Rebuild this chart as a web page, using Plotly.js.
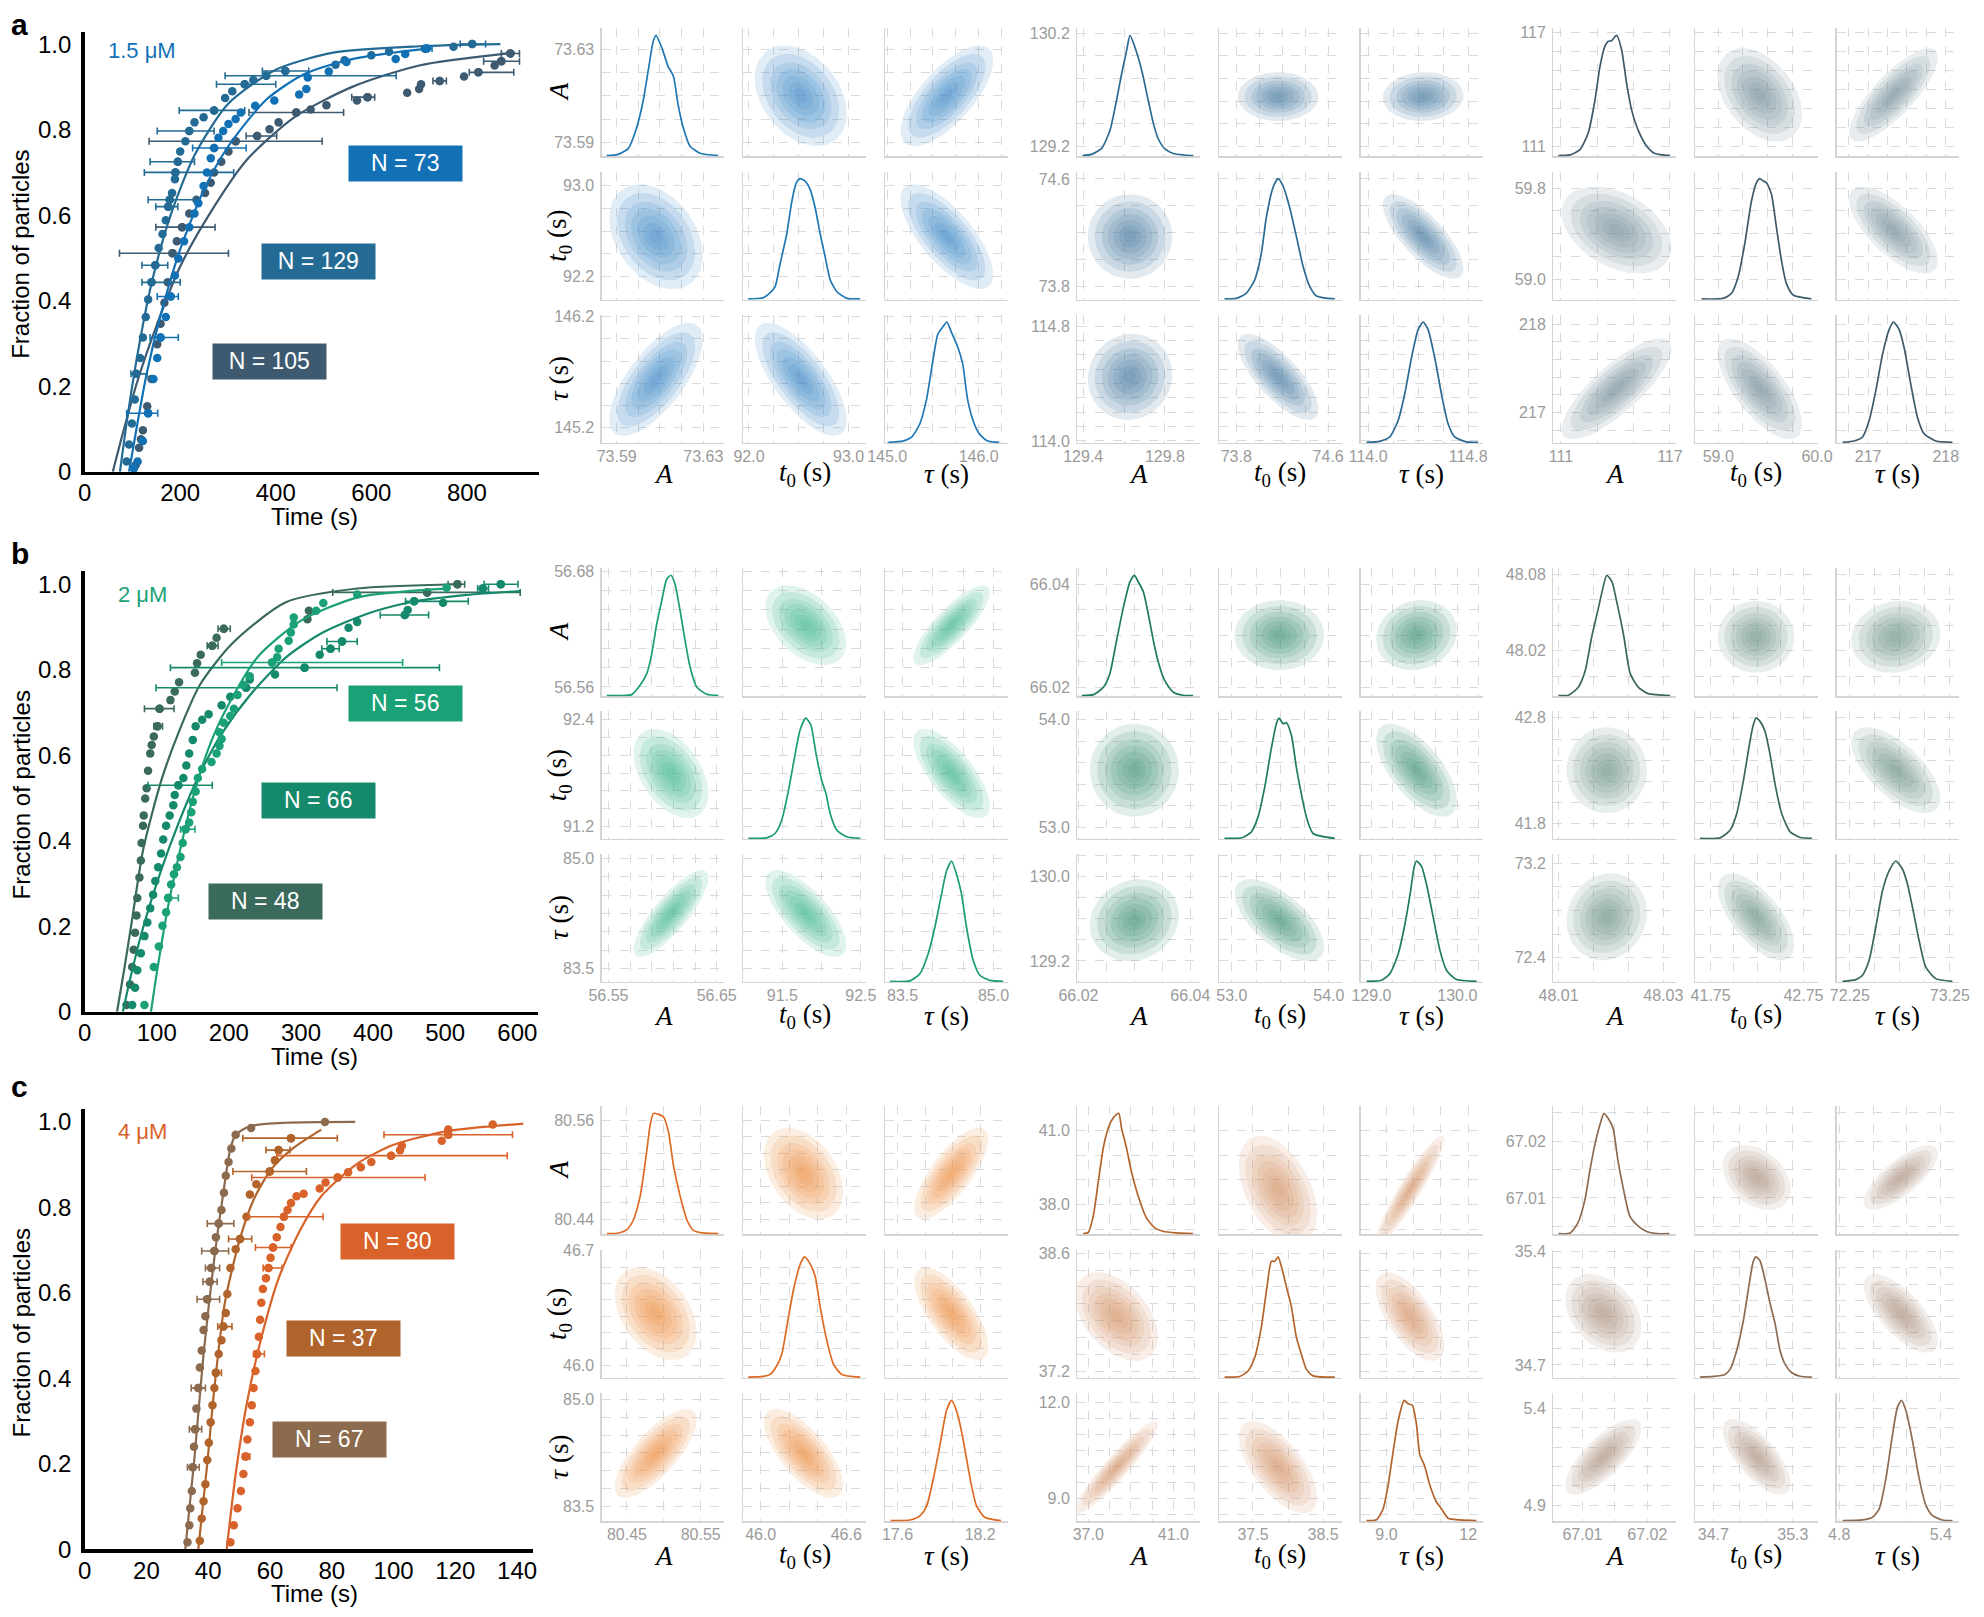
<!DOCTYPE html>
<html><head><meta charset="utf-8">
<script src="https://cdn.plot.ly/plotly-3.0.1.min.js"></script>
<style>html,body{margin:0;padding:0;background:#fff}#plot{width:1984px;height:1617px}</style>
</head><body><div id="plot"></div>
<script>
// ================= LEFT PANELS DATA (ECDF points, error bars, fitted curves) =================
// Row a (1.5 uM)
const A_TICKS_X = [0,200,400,600,800];
const A_N73_X = [103,111,122,133,144,152,159,170,180,189,196,208,219,230,238,249,256,264,271,280,290,301,316,327,357,397,449,464,467,511,548,651,671,716];
const A_N73_Y = [0.008,0.024,0.072,0.137,0.217,0.266,0.314,0.362,0.41,0.459,0.499,0.539,0.572,0.604,0.628,0.668,0.70,0.733,0.757,0.781,0.797,0.813,0.825,0.84,0.856,0.868,0.882,0.895,0.922,0.936,0.958,0.965,0.977,0.99];
const A_N73_EM = [0,0,0,45,0,0,22,0,28,0,0,0,0,0,0,0,0,0,45,0,0,0,0,0,0,0,0,0,0,0,0,0,0,4];
const A_N73_EP = [0,0,0,20,0,0,37,0,16,0,0,0,0,0,0,0,0,0,67,0,0,0,0,0,0,0,0,0,0,0,0,0,0,11];
const A_N73_CX = [93,110,130,160,200,250,300,380,460,560,720];
const A_N73_CY = [0,0.11,0.23,0.37,0.52,0.66,0.76,0.87,0.93,0.965,0.99];

const A_N129_X = [88,93,99,105,108,116,122,128,133,140,148,155,163,170,175,178,183,189,190,195,200,211,219,230,249,271,294,309,335,353,380,420,525,544,600,637,712,772,811];
const A_N129_Y = [0.024,0.064,0.113,0.169,0.229,0.266,0.314,0.362,0.403,0.443,0.483,0.523,0.556,0.588,0.62,0.636,0.652,0.684,0.70,0.725,0.749,0.773,0.797,0.817,0.829,0.845,0.874,0.89,0.906,0.916,0.926,0.937,0.952,0.962,0.974,0.982,0.989,0.994,1.0];
const A_N129_EM = [0,0,0,0,11,0,0,0,0,20,28,0,0,0,26,45,0,0,65,58,0,0,67,0,0,73,0,0,59,0,86,48,0,0,0,0,0,0,25];
const A_N129_EP = [0,0,0,0,23,0,0,0,0,60,26,0,0,0,20,52,0,0,122,35,0,0,52,0,0,64,0,0,65,0,272,49,0,0,0,0,0,0,28];
const A_N129_CX = [74,90,110,140,180,230,300,400,520,700,870];
const A_N129_CY = [0,0.13,0.27,0.44,0.60,0.74,0.86,0.94,0.98,0.995,1.0];

const A_N105_X = [107,114,118,122,131,140,152,159,167,174,184,193,204,219,234,252,264,271,286,301,316,361,387,406,443,473,506,570,592,675,700,704,743,794,824,858,872,891];
const A_N105_Y = [0.016,0.056,0.076,0.097,0.153,0.217,0.298,0.346,0.395,0.443,0.511,0.539,0.572,0.604,0.636,0.652,0.676,0.70,0.725,0.749,0.773,0.785,0.801,0.817,0.84,0.847,0.857,0.868,0.876,0.886,0.895,0.906,0.914,0.924,0.934,0.95,0.96,0.978];
const A_N105_EM = [0,0,0,0,0,0,0,0,0,0,111,0,55,0,0,0,0,0,0,0,181,23,0,0,99,0,0,0,33,0,0,0,14,0,19,0,37,19];
const A_N105_EP = [0,0,0,0,0,0,0,0,0,0,117,0,69,0,0,0,0,0,0,0,181,41,0,0,99,0,0,0,15,0,0,0,14,0,74,0,38,19];
const A_N105_CX = [59,80,110,150,200,260,340,440,560,700,900];
const A_N105_CY = [0,0.09,0.21,0.34,0.48,0.60,0.73,0.83,0.90,0.95,0.98];

// Row b (2 uM)
const B_TICKS_X = [0,100,200,300,400,500,600];
const B_N56_X = [83,96,103,108,113,116,120,124,128,133,136,140,145,148,150,154,157,163,176,183,187,190,187,193,202,207,212,220,229,260,267,269,283,286,290,290,321,331,378,502];
const B_N56_Y = [0.016,0.105,0.153,0.201,0.233,0.266,0.298,0.322,0.338,0.362,0.395,0.427,0.443,0.467,0.491,0.515,0.547,0.568,0.584,0.604,0.622,0.638,0.654,0.676,0.692,0.709,0.741,0.765,0.785,0.817,0.829,0.849,0.868,0.887,0.906,0.922,0.938,0.956,0.976,0.992];
const B_N56_EM = [0,0,0,0,0,3,0,0,0,0,0,7,0,0,0,0,0,0,0,0,0,0,0,0,0,0,0,0,0,70,0,0,0,0,0,0,0,0,0,0];
const B_N56_EP = [0,0,0,0,0,14,0,0,0,0,0,13,0,0,0,0,0,0,0,0,0,0,0,0,0,0,0,0,0,181,0,0,0,0,0,0,0,0,0,0];
const B_N56_CX = [92,100,115,130,150,175,200,240,300,380,500];
const B_N56_CY = [0,0.09,0.24,0.36,0.50,0.63,0.72,0.83,0.915,0.97,0.99];

const B_N66_X = [66,70,73,78,83,87,91,95,98,102,106,109,113,118,123,125,130,137,141,145,150,154,163,172,190,202,224,229,264,305,326,341,357,366,378,444,448,457,497,552,577];
const B_N66_Y = [0.016,0.056,0.097,0.137,0.177,0.209,0.242,0.274,0.306,0.338,0.37,0.403,0.435,0.459,0.483,0.507,0.53,0.547,0.576,0.604,0.636,0.668,0.683,0.696,0.717,0.737,0.758,0.777,0.789,0.805,0.835,0.849,0.866,0.898,0.912,0.928,0.94,0.96,0.957,0.99,1.0];
const B_N66_EM = [0,0,0,0,0,0,0,0,0,0,0,0,0,0,0,0,42,0,0,0,0,0,0,0,0,0,125,0,0,186,0,12,21,0,0,34,0,12,0,7,23];
const B_N66_EP = [0,0,0,0,0,0,0,0,0,0,0,0,0,0,0,0,47,0,0,0,0,0,0,0,0,0,126,0,0,187,0,12,21,0,0,33,0,75,0,8,24];
const B_N66_CX = [53,65,80,106,130,155,190,229,280,329,390,452,530,604];
const B_N66_CY = [0,0.09,0.19,0.33,0.44,0.54,0.65,0.74,0.83,0.886,0.93,0.958,0.975,0.984];

const B_N48_X = [58,63,66,68,70,72,73,76,78,79,81,82,84,86,88,91,93,96,101,104,119,125,131,153,156,161,177,183,193,309,311,475,517];
const B_N48_Y = [0.016,0.064,0.105,0.145,0.185,0.225,0.266,0.314,0.354,0.395,0.435,0.459,0.499,0.523,0.564,0.604,0.624,0.644,0.668,0.709,0.729,0.749,0.771,0.793,0.815,0.835,0.856,0.875,0.896,0.918,0.938,0.981,1.0];
const B_N48_EM = [0,0,0,0,0,0,0,0,0,0,0,0,0,0,0,0,0,0,5,21,0,0,0,0,0,0,7,0,8,0,0,131,13];
const B_N48_EP = [0,0,0,0,0,0,0,0,0,0,0,0,0,0,0,0,0,0,7,20,0,0,0,0,0,0,8,0,9,0,0,129,10];
const B_N48_CX = [45,55,66,81,106,130,160,205,279,378,517];
const B_N48_CY = [0,0.1,0.217,0.378,0.539,0.652,0.765,0.862,0.958,0.99,1.0];

// Row c (4 uM)
const C_TICKS_X = [0,20,40,60,80,100,120,140];
const C_N80_X = [47.2,48.3,49.5,50.6,51.4,52.1,52.7,53.5,54.1,54.7,55.3,55.8,56.4,56.8,57.2,57.7,58.7,59.5,60.2,61.0,62.2,63.4,64.5,65.7,66.8,68.6,70.9,76.1,78.0,81.9,85.3,89.4,92.8,99.2,102.1,102.7,115.6,117.7,117.7,132.1];
const C_N80_Y = [0.016,0.056,0.096,0.136,0.176,0.217,0.257,0.297,0.337,0.377,0.417,0.457,0.497,0.537,0.577,0.609,0.634,0.658,0.682,0.706,0.73,0.754,0.778,0.794,0.81,0.826,0.832,0.844,0.858,0.87,0.882,0.894,0.906,0.921,0.934,0.944,0.956,0.97,0.982,0.994];
const C_N80_EM = [0,0,0,0,0,0.9,0,0,0,0,0,1.1,0,0,0,0,0,1.7,0,5.7,0,0,11.6,0,0,0,0,0,0,27.8,0,0,0,37,0,0,0,20.8,0,0];
const C_N80_EP = [0,0,0,0,0,1.4,0,0,0,0,0,2.4,0,0,0,0,0,4.4,0,5.8,0,0,12.7,0,0,0,0,0,0,28.3,0,0,0,37.6,0,0,0,20.8,0,0];
const C_N80_CX = [46.0,48.9,52.4,57.0,62.8,69.7,76.6,88.2,99.8,117.1,142.0];
const C_N80_CY = [0,0.176,0.337,0.489,0.634,0.746,0.826,0.902,0.946,0.978,0.996];

const C_N37_X = [37.3,37.9,38.5,39.1,39.7,40.2,40.8,41.4,42.0,42.5,43.4,44.3,44.9,45.7,46.2,47.2,48.9,50.3,52.4,53.5,55.6,59.9,61.6,62.8,66.8];
const C_N37_Y = [0.02,0.072,0.112,0.152,0.209,0.249,0.297,0.337,0.377,0.413,0.457,0.489,0.521,0.553,0.597,0.658,0.702,0.726,0.778,0.83,0.854,0.884,0.91,0.934,0.962];
const C_N37_EM = [0,0,0,0,0,0,0,0,0,0.5,0,0,1.8,0,0,0,0,3.7,0,0,0,11.9,0,4.1,15.6];
const C_N37_EP = [0,0,0,0,0,0,0,0,0,1.8,0,0,2.8,0,0,0,0,3.8,0,0,0,11.9,0,3.7,15.0];
const C_N37_CX = [36.8,39.7,42.0,45.4,50.1,54.7,60.5,67.4,76.6];
const C_N37_CY = [0,0.2,0.377,0.577,0.722,0.818,0.89,0.938,0.982];

const C_N67_X = [33.3,33.9,34.2,34.7,35.0,35.4,35.8,36.2,36.8,37.3,37.9,38.5,39.1,39.7,40.5,41.0,42.0,42.5,43.4,44.3,45.1,45.7,46.6,47.5,48.9,53.9,77.8];
const C_N67_Y = [0.016,0.056,0.096,0.136,0.192,0.24,0.281,0.329,0.377,0.425,0.465,0.513,0.545,0.585,0.626,0.658,0.698,0.73,0.762,0.794,0.834,0.874,0.906,0.938,0.97,0.986,1.0];
const C_N67_EM = [0,0,0,0,1.7,0,1.9,0,2.3,0,0,0,0,3.3,2.2,1.9,4.1,0,3.7,0,0,0,0,0,0,0,0];
const C_N67_EP = [0,0,0,0,2.1,0,2.1,0,2.3,0,0,0,0,4.0,2.4,2.7,4.6,0,4.9,0,0,0,0,0,0,0,0];
const C_N67_CX = [32.6,35.6,38.5,42.0,44.9,47.2,48.9,53.5,65.1,87.6];
const C_N67_CY = [0,0.217,0.457,0.682,0.834,0.938,0.97,0.99,0.998,1.0];

const Y_TICKS = [0,0.2,0.4,0.6,0.8,1.0];
const Y_TICKTEXT = ["0","0.2","0.4","0.6","0.8","1.0"];
const CONC_LABELS = ["1.5 μM","2 μM","4 μM"];
const PANEL_LETTERS = ["a","b","c"];

// ================= CORNER PLOTS DATA =================
// variables order: A, t0, tau ; RHO = [(A,t0),(A,tau),(t0,tau)]
const A1_XR=[[73.5831,73.6397],[91.943,93.174],[144.975,146.315]];
const A1_XG=[[73.59,73.60,73.61,73.62,73.63],[92.0,92.25,92.5,92.75,93.0],[145.0,145.25,145.5,145.75,146.0,146.25]];
const A1_XL=[["73.59","73.63"],["92.0","93.0"],["145.0","146.0"]];
const A1_YR=[[73.584,73.639],[91.995,93.123],[145.061,146.215]];
const A1_YG=[[73.59,73.60,73.61,73.62,73.63],[92.2,92.4,92.6,92.8,93.0],[145.2,145.4,145.6,145.8,146.0,146.2]];
const A1_YL=[["73.59","73.63"],["92.2","93.0"],["145.2","146.2"]];
const A1_MX=[73.6082,92.52,145.652], A1_SX=[0.0072,0.154,0.169];
const A1_MY=[73.610,92.55,145.635], A1_SY=[0.0072,0.154,0.17];
const A1_RHO=[-0.35,0.7,-0.72];
const A1_KX=[[73.5854,73.5908,73.5954,73.5992,73.6023,73.6046,73.6069,73.6082,73.6108,73.6138,73.6162,73.6185,73.6208,73.6238,73.6285,73.6369],
 [91.993,92.144,92.211,92.262,92.312,92.379,92.43,92.473,92.513,92.564,92.614,92.664,92.715,92.765,92.815,92.883,92.983,93.117],
 [145.011,145.174,145.264,145.355,145.428,145.5,145.554,145.609,145.652,145.699,145.772,145.826,145.88,145.953,146.007,146.098,146.225]];
const A1_KY=[[0,0.01,0.06,0.23,0.46,0.71,0.95,1.0,0.9,0.74,0.66,0.41,0.23,0.08,0.02,0],
 [0,0.01,0.05,0.1,0.29,0.54,0.81,0.96,1.0,0.98,0.91,0.76,0.54,0.35,0.16,0.06,0.005,0],
 [0,0.01,0.04,0.15,0.35,0.68,0.9,0.96,1.0,0.92,0.79,0.65,0.35,0.15,0.07,0.01,0]];

const A2_XR=[[129.371,129.971],[73.649,74.716],[113.939,114.92]];
const A2_XG=[[129.4,129.6,129.8],[73.8,74.0,74.2,74.4,74.6],[114.0,114.2,114.4,114.6,114.8]];
const A2_XL=[["129.4","129.8"],["73.8","74.6"],["114.0","114.8"]];
const A2_YR=[[129.112,130.244],[73.701,74.654],[113.986,114.877]];
const A2_YG=[[129.2,129.4,129.6,129.8,130.0,130.2],[73.8,74.0,74.2,74.4,74.6],[114.0,114.1,114.2,114.3,114.4,114.5,114.6,114.7,114.8]];
const A2_YL=[["129.2","130.2"],["73.8","74.6"],["114.0","114.8"]];
const A2_MX=[129.629,74.164,114.44], A2_SX=[0.069,0.117,0.1075];
const A2_MY=[129.64,74.171,114.446], A2_SY=[0.072,0.105,0.1];
const A2_RHO=[0.0,0.05,-0.75];
const A2_KX=[[129.397,129.441,129.49,129.531,129.563,129.588,129.612,129.629,129.653,129.686,129.718,129.743,129.767,129.8,129.841,129.89,129.939],
 [73.698,73.8,73.887,73.96,74.018,74.062,74.12,74.164,74.207,74.265,74.324,74.382,74.44,74.498,74.658],
 [113.987,114.093,114.173,114.24,114.293,114.347,114.4,114.44,114.48,114.533,114.587,114.64,114.693,114.787,114.88]];
const A2_KY=[[0,0.01,0.06,0.21,0.46,0.68,0.87,1.0,0.9,0.71,0.46,0.27,0.14,0.055,0.017,0.005,0],
 [0,0.005,0.047,0.157,0.376,0.679,0.926,1.0,0.94,0.76,0.516,0.269,0.102,0.025,0],
 [0,0.008,0.044,0.181,0.401,0.703,0.937,1.0,0.937,0.703,0.401,0.154,0.044,0.003,0]];

const A3_XR=[[110.578,117.33],[58.764,60.005],[216.592,218.172]];
const A3_XG=[[111,113,115,117],[59.0,59.25,59.5,59.75,60.0],[216.75,217.0,217.25,217.5,217.75,218.0]];
const A3_XL=[["111","117"],["59.0","60.0"],["217","218"]];
const A3_YR=[[110.47,117.21],[58.818,59.947],[216.657,218.102]];
const A3_YG=[[111,112,113,114,115,116,117],[59.0,59.2,59.4,59.6,59.8],[216.8,217.0,217.2,217.4,217.6,217.8,218.0]];
const A3_YL=[["111","117"],["59.0","59.8"],["217","218"]];
const A3_MX=[114.06,59.42,217.326], A3_SX=[1.01,0.143,0.191];
const A3_MY=[113.7,59.432,217.27], A3_SY=[0.82,0.128,0.19];
const A3_RHO=[-0.4,0.8,-0.7];
const A3_KX=[[110.853,111.495,112.046,112.505,112.872,113.147,113.422,113.606,113.789,114.064,114.339,114.615,114.89,115.257,115.716,116.174,117.0],
 [58.832,59.051,59.135,59.202,59.269,59.337,59.387,59.421,59.455,59.488,59.539,59.589,59.64,59.69,59.758,59.943],
 [216.67,216.82,216.927,217.013,217.099,217.185,217.27,217.326,217.399,217.464,217.549,217.635,217.721,217.871,218.086]];
const A3_KY=[[0,0.006,0.05,0.19,0.46,0.74,0.91,0.95,0.955,1.0,0.88,0.6,0.38,0.21,0.08,0.017,0],
 [0,0.005,0.047,0.184,0.459,0.816,0.967,1.0,0.981,0.967,0.871,0.596,0.321,0.129,0.033,0],
 [0,0.011,0.044,0.181,0.429,0.731,0.937,1.0,0.937,0.786,0.484,0.209,0.071,0.011,0]];

const B1_XR=[[56.5438,56.657],[91.002,92.564],[83.209,85.231]];
const B1_XG=[[56.55,56.57,56.59,56.61,56.63,56.65],[91.5,92.0,92.5],[83.5,84.0,84.5,85.0]];
const B1_XL=[["56.55","56.65"],["91.5","92.5"],["83.5","85.0"]];
const B1_YR=[[56.5503,56.683],[91.059,92.493],[83.318,85.059]];
const B1_YG=[[56.56,56.58,56.60,56.62,56.64,56.66,56.68],[91.2,91.4,91.6,91.8,92.0,92.2,92.4],[83.5,83.75,84.0,84.25,84.5,84.75,85.0]];
const B1_YL=[["56.56","56.68"],["91.2","92.4"],["83.5","85.0"]];
const B1_MX=[56.6078,91.798,84.308], B1_SX=[0.0115,0.172,0.21];
const B1_MY=[56.624,91.794,84.25], B1_SY=[0.0138,0.167,0.197];
const B1_RHO=[-0.45,0.82,-0.72];
const B1_KX=[[56.5485,56.5608,56.5715,56.5792,56.5854,56.59,56.5946,56.5992,56.6038,56.6078,56.6115,56.6162,56.6208,56.6254,56.6315,56.6408,56.6515],
 [91.066,91.3,91.406,91.491,91.577,91.662,91.726,91.798,91.862,91.93,92.002,92.057,92.109,92.194,92.321,92.491],
 [83.291,83.621,83.786,83.923,84.033,84.143,84.225,84.308,84.39,84.473,84.555,84.665,84.775,84.94,85.159]];
const B1_KY=[[0,0,0.008,0.085,0.182,0.347,0.595,0.788,0.967,1.0,0.926,0.705,0.457,0.237,0.072,0.011,0],
 [0,0.005,0.041,0.151,0.397,0.699,0.904,1.0,0.945,0.699,0.479,0.37,0.205,0.068,0.014,0],
 [0,0.003,0.063,0.229,0.449,0.725,0.917,1.0,0.89,0.725,0.449,0.174,0.05,0.008,0]];

const B2_XR=[[66.0198,66.0417],[52.866,54.131],[128.872,130.30]];
const B2_XG=[[66.02,66.025,66.03,66.035,66.04],[53.0,53.25,53.5,53.75,54.0],[129.0,129.25,129.5,129.75,130.0,130.25]];
const B2_XL=[["66.02","66.04"],["53.0","54.0"],["129.0","130.0"]];
const B2_YR=[[66.0182,66.0431],[52.889,54.077],[129.0,130.216]];
const B2_YG=[[66.02,66.025,66.03,66.035,66.04],[53.0,53.2,53.4,53.6,53.8,54.0],[129.2,129.4,129.6,129.8,130.0,130.2]];
const B2_YL=[["66.02","66.04"],["53.0","54.0"],["129.2","130.0"]];
const B2_MX=[66.03,53.49,129.525], B2_SX=[0.00265,0.154,0.157];
const B2_MY=[66.0301,53.529,129.587], B2_SY=[0.00227,0.144,0.13];
const B2_RHO=[0.0,0.12,-0.65];
const B2_KX=[[66.0206,66.0227,66.0245,66.0256,66.0268,66.028,66.0292,66.03,66.0307,66.0316,66.0325,66.0334,66.0342,66.0354,66.0369,66.0387,66.0405],
 [52.924,53.114,53.2,53.269,53.338,53.407,53.459,53.486,53.528,53.562,53.614,53.666,53.717,53.769,53.838,54.062],
 [128.942,129.117,129.214,129.311,129.389,129.455,129.498,129.525,129.584,129.642,129.72,129.798,129.875,129.992,130.226]];
const B2_KY=[[0,0.008,0.071,0.18,0.454,0.727,0.945,1.0,0.945,0.863,0.672,0.454,0.29,0.126,0.03,0.003,0],
 [0,0.008,0.054,0.177,0.422,0.749,0.954,1.0,0.954,0.962,0.858,0.586,0.368,0.177,0.041,0],
 [0,0.008,0.063,0.227,0.474,0.748,0.953,1.0,0.953,0.803,0.529,0.255,0.09,0.014,0]];

const B3_XR=[[48.009,48.0324],[41.581,42.901],[72.117,73.343]];
const B3_XG=[[48.01,48.01667,48.02333,48.03],[41.75,42.0,42.25,42.5,42.75],[72.25,72.5,72.75,73.0,73.25]];
const B3_XL=[["48.01","48.03"],["41.75","42.75"],["72.25","73.25"]];
const B3_YR=[[47.9844,48.0847],[41.656,42.8625],[72.193,73.279]];
const B3_YG=[[48.0,48.02,48.04,48.06,48.08],[41.8,42.0,42.2,42.4,42.6,42.8],[72.4,72.6,72.8,73.0,73.2]];
const B3_YL=[["48.02","48.08"],["41.8","42.8"],["72.4","73.2"]];
const B3_MX=[48.0192,42.239,72.71], B3_SX=[0.00256,0.137,0.149];
const B3_MY=[48.031,42.306,72.746], B3_SY=[0.0094,0.135,0.123];
const B3_RHO=[0.0,0.1,-0.65];
const B3_KX=[[48.01,48.0119,48.0138,48.0151,48.0163,48.0176,48.0186,48.0192,48.0202,48.0211,48.0224,48.0237,48.0252,48.0271,48.0313],
 [41.635,41.851,41.959,42.031,42.103,42.174,42.21,42.239,42.282,42.336,42.39,42.444,42.516,42.606,42.714,42.84],
 [72.177,72.31,72.377,72.443,72.51,72.577,72.643,72.71,72.777,72.827,72.877,72.943,73.01,73.11,73.277]];
const B3_KY=[[0,0.003,0.071,0.208,0.481,0.727,0.918,1.0,0.945,0.781,0.508,0.18,0.071,0.016,0],
 [0,0.005,0.068,0.205,0.479,0.808,0.945,1.0,0.973,0.89,0.699,0.452,0.205,0.055,0.008,0],
 [0,0.014,0.05,0.174,0.449,0.752,0.917,1.0,0.931,0.807,0.614,0.339,0.118,0.022,0]];

const C1_XR=[[80.4158,80.582],[45.878,46.738],[17.509,18.398]];
const C1_XG=[[80.45,80.50,80.55],[46.0,46.2,46.4,46.6],[17.6,17.8,18.0,18.2]];
const C1_XL=[["80.45","80.55"],["46.0","46.6"],["17.6","18.2"]];
const C1_YR=[[80.4215,80.5769],[45.921,46.705],[83.294,85.081]];
const C1_YG=[[80.44,80.46,80.48,80.50,80.52,80.54,80.56],[46.0,46.1,46.2,46.3,46.4,46.5,46.6,46.7],[83.5,83.75,84.0,84.25,84.5,84.75,85.0]];
const C1_YL=[["80.44","80.56"],["46.0","46.7"],["83.5","85.0"]];
const C1_MX=[80.489,46.3,17.99], C1_SX=[0.0185,0.0926,0.0894];
const C1_MY=[80.4955,46.315,84.243], C1_SY=[0.0185,0.095,0.207];
const C1_RHO=[-0.4,0.75,-0.7];
const C1_KX=[[80.423,80.4387,80.45,80.459,80.468,80.4761,80.4815,80.486,80.4928,80.4995,80.5063,80.5131,80.5221,80.5311,80.5401,80.5536,80.5739],
 [45.913,46.019,46.066,46.112,46.148,46.183,46.23,46.277,46.307,46.342,46.382,46.417,46.464,46.511,46.569,46.698],
 [17.55,17.693,17.765,17.813,17.861,17.909,17.956,17.992,18.028,18.064,18.1,18.136,18.172,18.232,18.351]];
const C1_KY=[[0,0.006,0.034,0.118,0.314,0.65,0.902,1.0,0.992,0.972,0.846,0.566,0.314,0.118,0.028,0.006,0],
 [0,0.006,0.023,0.093,0.192,0.417,0.727,0.938,1.0,0.952,0.839,0.586,0.304,0.107,0.023,0],
 [0,0.006,0.042,0.127,0.352,0.634,0.915,1.0,0.915,0.746,0.521,0.296,0.127,0.028,0]];

const C2_XR=[[36.484,42.25],[37.014,38.762],[8.045,12.55]];
const C2_XG=[[37,38,39,40,41,42],[37.5,38.0,38.5],[9,10,11,12]];
const C2_XL=[["37.0","41.0"],["37.5","38.5"],["9.0","12"]];
const C2_YR=[[36.795,41.97],[37.119,38.641],[8.293,12.289]];
const C2_YG=[[37,38,39,40,41],[37.2,37.4,37.6,37.8,38.0,38.2,38.4,38.6],[8.5,9.0,9.5,10.0,10.5,11.0,11.5,12.0]];
const C2_YL=[["38.0","41.0"],["37.2","38.6"],["9.0","12.0"]];
const C2_MX=[38.33,37.857,9.86], C2_SX=[0.65,0.186,0.42];
const C2_MY=[38.6,37.848,9.985], C2_SY=[0.73,0.176,0.48];
const C2_RHO=[-0.45,0.93,-0.65];
const C2_KX=[[36.766,37.0,37.234,37.469,37.703,37.891,38.094,38.328,38.438,38.563,38.797,39.031,39.344,39.734,40.125,40.516,41.141,41.922],
 [37.095,37.31,37.429,37.524,37.619,37.7,37.762,37.81,37.857,37.905,37.976,38.048,38.119,38.19,38.262,38.357,38.667],
 [8.266,8.633,8.878,9.061,9.245,9.428,9.649,9.796,9.955,10.1,10.224,10.408,10.591,10.836,11.02,11.264,11.693,12.305]];
const C2_KY=[[0,0.011,0.146,0.428,0.71,0.85,0.941,0.992,1.0,0.879,0.713,0.515,0.316,0.132,0.048,0.02,0.006,0],
 [0,0.006,0.051,0.163,0.416,0.753,0.963,0.963,1.0,0.921,0.753,0.584,0.331,0.191,0.065,0.011,0],
 [0,0.008,0.099,0.296,0.577,0.83,1.0,0.972,0.958,0.803,0.549,0.451,0.296,0.155,0.099,0.02,0.006,0]];

const C3_XR=[[67.0055,67.0244],[34.561,35.486],[4.784,5.508]];
const C3_XG=[[67.01,67.015,67.02],[34.7,34.9,35.1,35.3],[4.8,5.0,5.2,5.4]];
const C3_XL=[["67.01","67.02"],["34.7","35.3"],["4.8","5.4"]];
const C3_YR=[[67.0036,67.0261],[34.62,35.411],[4.817,5.476]];
const C3_YG=[[67.005,67.01,67.015,67.02,67.025],[34.7,34.8,34.9,35.0,35.1,35.2,35.3,35.4],[4.9,5.0,5.1,5.2,5.3,5.4]];
const C3_YL=[["67.01","67.02"],["34.7","35.4"],["4.9","5.4"]];
const C3_MX=[67.0132,35.027,5.164], C3_SX=[0.00196,0.0856,0.073];
const C3_MY=[67.0136,35.019,5.149], C3_SY=[0.0019,0.081,0.065];
const C3_RHO=[-0.35,0.75,-0.7];
const C3_KX=[[67.0063,67.0081,67.0093,67.0104,67.0111,67.0119,67.0127,67.0133,67.0139,67.0147,67.0155,67.0163,67.0173,67.0186,67.0198,67.0214,67.0234],
 [34.599,34.7,34.788,34.826,34.876,34.927,34.972,35.002,35.022,35.053,35.09,35.128,35.166,35.204,35.242,35.292,35.355,35.443],
 [4.82,4.938,4.997,5.036,5.076,5.115,5.144,5.168,5.194,5.233,5.272,5.312,5.351,5.41,5.469]];
const C3_KY=[[0,0.006,0.09,0.287,0.513,0.738,0.907,1.0,0.963,0.879,0.597,0.372,0.146,0.062,0.02,0,0],
 [0,0.006,0.023,0.065,0.22,0.473,0.783,0.966,1.0,0.966,0.811,0.614,0.445,0.22,0.107,0.037,0.008,0],
 [0,0.006,0.028,0.099,0.352,0.718,0.944,1.0,0.915,0.662,0.352,0.127,0.042,0.006,0]];

const VAR_TITLES = ["<i>A</i>", "<i>t</i><sub>0</sub> (s)", "<i>τ</i> (s)"];

// ================= STYLE =================
const W = 1984, H = 1617;
const SANS = "Liberation Sans, Arial, Helvetica, sans-serif";
const SERIF = "Liberation Serif, DejaVu Serif, serif";
const ROW_COLORS = [["#1271b5","#236b94","#3e5a70"],["#1ba177","#15896b","#3a6a5b"],["#d8622a","#b0632a","#8b6a4e"]];
const KDE_COLORS = [["#1f77b4","#2b6a92","#3d596c"],["#1a9e6f","#1d7c5e","#3a6858"],["#dc6a23","#b3642c","#8c6b52"]];
const CLOUD_RGB = [[[60,135,200],[75,125,160],[120,145,158]],[[60,180,140],[70,150,120],[110,150,135]],[[235,140,70],[210,150,105],[175,150,130]]];

const px2x = p => p / W;
const px2y = p => 1 - p / H;

const layout = {width:W, height:H, margin:{l:0,r:0,t:0,b:0}, showlegend:false, hovermode:false,
  paper_bgcolor:'#ffffff', plot_bgcolor:'rgba(0,0,0,0)', font:{family:SANS}, annotations:[]};
const traces = [];
let nx = 0, ny = 0;
function axisPair(xcfg, ycfg){
  const xi = ++nx, yi = ++ny;
  const xid = xi===1?'x':'x'+xi, yid = yi===1?'y':'y'+yi;
  xcfg.anchor = yid; ycfg.anchor = xid;
  layout[xi===1?'xaxis':'xaxis'+xi] = xcfg;
  layout[yi===1?'yaxis':'yaxis'+yi] = ycfg;
  return {xid, yid};
}
function ann(text, xpx, ypx, opts){
  layout.annotations.push(Object.assign({text, x:px2x(xpx), y:px2y(ypx), xref:'paper', yref:'paper',
    showarrow:false, xanchor:'center', yanchor:'middle'}, opts||{}));
}

// ================= LEFT PANELS =================
const LEFT = [
  {dx:[84.6,538.6], dy:[471.8,31.7], xr:[0,950], yr:[0,1.029], ticks:A_TICKS_X,
   sets:[[A_N105_X,A_N105_Y,A_N105_EM,A_N105_EP,A_N105_CX,A_N105_CY,2],
         [A_N129_X,A_N129_Y,A_N129_EM,A_N129_EP,A_N129_CX,A_N129_CY,1],
         [A_N73_X,A_N73_Y,A_N73_EM,A_N73_EP,A_N73_CX,A_N73_CY,0]],
   boxes:[["N = 73",405.5,163.6,0],["N = 129",318,261,1],["N = 105",269.5,361.6,2]],
   letter:[19,24], conc:[142,50.8], frac:254.8, time:516.5},
  {dx:[84.6,537.5], dy:[1011.8,571], xr:[0,628], yr:[0,1.031], ticks:B_TICKS_X,
   sets:[[B_N48_X,B_N48_Y,B_N48_EM,B_N48_EP,B_N48_CX,B_N48_CY,2],
         [B_N66_X,B_N66_Y,B_N66_EM,B_N66_EP,B_N66_CX,B_N66_CY,1],
         [B_N56_X,B_N56_Y,B_N56_EM,B_N56_EP,B_N56_CX,B_N56_CY,0]],
   boxes:[["N = 56",405,703.2,0],["N = 66",318.3,800.7,1],["N = 48",265.8,901.2,2]],
   letter:[20,553], conc:[142,594.2], frac:795.5, time:1056.5},
  {dx:[84.6,533.2], dy:[1549.2,1109.1], xr:[0,145.2], yr:[0,1.030], ticks:C_TICKS_X,
   sets:[[C_N67_X,C_N67_Y,C_N67_EM,C_N67_EP,C_N67_CX,C_N67_CY,2],
         [C_N37_X,C_N37_Y,C_N37_EM,C_N37_EP,C_N37_CX,C_N37_CY,1],
         [C_N80_X,C_N80_Y,C_N80_EM,C_N80_EP,C_N80_CX,C_N80_CY,0]],
   boxes:[["N = 80",397.3,1241.3,0],["N = 37",343.8,1338.6,1],["N = 67",329,1439.2,2]],
   letter:[19,1086], conc:[142,1131.4], frac:1333.4, time:1593.7}
];

LEFT.forEach((P, r) => {
  const axBase = {showline:true, linewidth:3.5, linecolor:'#000', showgrid:false, zeroline:false,
    tickfont:{family:SANS, size:24, color:'#000'}, fixedrange:true, tickmode:'array', tickangle:0};
  const {xid, yid} = axisPair(
    Object.assign({}, axBase, {domain:[px2x(P.dx[0]), px2x(P.dx[1])], range:P.xr, tickvals:P.ticks, ticktext:P.ticks.map(String), ticks:'', ticklabelstandoff:-3}),
    Object.assign({}, axBase, {domain:[px2y(P.dy[0]), px2y(P.dy[1])], range:P.yr, tickvals:Y_TICKS, ticktext:Y_TICKTEXT,
      ticks:'outside', ticklen:5, tickcolor:'rgba(0,0,0,0)'}));
  P.sets.forEach(s => {
    const [X, Y, EM, EP, CX, CY, ci] = s;
    const col = ROW_COLORS[r][ci];
    traces.push({type:'scatter', mode:'lines', x:CX, y:CY, xaxis:xid, yaxis:yid,
      line:{color:col, width:2.2, shape:'spline', smoothing:0.7}, hoverinfo:'skip'});
    traces.push({type:'scatter', mode:'markers', x:X, y:Y, xaxis:xid, yaxis:yid, cliponaxis:false,
      marker:{color:col, size:8.5, line:{width:0}}, hoverinfo:'skip'});
    const idx = X.map((v,i)=>i).filter(i => EM[i] > 0 || EP[i] > 0);
    traces.push({type:'scatter', mode:'markers', x:idx.map(i=>X[i]), y:idx.map(i=>Y[i]), xaxis:xid, yaxis:yid, cliponaxis:false,
      marker:{color:col, size:8.5}, hoverinfo:'skip',
      error_x:{type:'data', symmetric:false, array:idx.map(i=>EP[i]), arrayminus:idx.map(i=>EM[i]), color:col, thickness:1.6, width:3.5}});
  });
  P.boxes.forEach(b => ann(b[0], b[1], b[2], {bgcolor:ROW_COLORS[r][b[3]], width:112.5, height:34.5, borderpad:0,
    font:{family:SANS, size:23, color:'#ffffff'}, align:'center', valign:'middle'}));
  ann('<b>'+PANEL_LETTERS[r]+'</b>', P.letter[0], P.letter[1], {font:{family:SANS, size:30, color:'#000'}});
  ann(CONC_LABELS[r], P.conc[0], P.conc[1], {font:{family:SANS, size:22, color:ROW_COLORS[r][0]}});
  ann('Fraction of particles', 21, P.frac, {textangle:-90, font:{family:SANS, size:24, color:'#000'}});
  ann('Time (s)', 314, P.time, {font:{family:SANS, size:24, color:'#000'}});
});

// ================= CORNER PLOTS =================
const CORNERS = [
  [[A1_XR,A1_XG,A1_XL,A1_YR,A1_YG,A1_YL,A1_MX,A1_SX,A1_MY,A1_SY,A1_RHO,A1_KX,A1_KY],
   [A2_XR,A2_XG,A2_XL,A2_YR,A2_YG,A2_YL,A2_MX,A2_SX,A2_MY,A2_SY,A2_RHO,A2_KX,A2_KY],
   [A3_XR,A3_XG,A3_XL,A3_YR,A3_YG,A3_YL,A3_MX,A3_SX,A3_MY,A3_SY,A3_RHO,A3_KX,A3_KY]],
  [[B1_XR,B1_XG,B1_XL,B1_YR,B1_YG,B1_YL,B1_MX,B1_SX,B1_MY,B1_SY,B1_RHO,B1_KX,B1_KY],
   [B2_XR,B2_XG,B2_XL,B2_YR,B2_YG,B2_YL,B2_MX,B2_SX,B2_MY,B2_SY,B2_RHO,B2_KX,B2_KY],
   [B3_XR,B3_XG,B3_XL,B3_YR,B3_YG,B3_YL,B3_MX,B3_SX,B3_MY,B3_SY,B3_RHO,B3_KX,B3_KY]],
  [[C1_XR,C1_XG,C1_XL,C1_YR,C1_YG,C1_YL,C1_MX,C1_SX,C1_MY,C1_SY,C1_RHO,C1_KX,C1_KY],
   [C2_XR,C2_XG,C2_XL,C2_YR,C2_YG,C2_YL,C2_MX,C2_SX,C2_MY,C2_SY,C2_RHO,C2_KX,C2_KY],
   [C3_XR,C3_XG,C3_XL,C3_YR,C3_YG,C3_YL,C3_MX,C3_SX,C3_MY,C3_SY,C3_RHO,C3_KX,C3_KY]]
];
const GX0 = [601.7, 1077.3, 1553.3];
const COL_PITCH = 141.6, PANEL_W = 122.6, PANEL_H = 128;
const ROW_TOP = [28.3, 568.3, 1106.4];
const ROW_PITCH = [143.35, 142.85, 143.5];
const XTITLE_Y = [474.5, 1016, 1555.5];
const YTITLE_X = 559;
// nested Mahalanobis contours (k sigma) used to shade each posterior cloud
const CLOUD_K = [3.0, 2.5, 2.0, 1.6, 1.2, 0.8, 0.45];
const CLOUD_ALPHA = 0.16;

function tickText(grid, labels){
  const vals = labels.map(parseFloat);
  return grid.map(v => { const k = vals.findIndex(l => Math.abs(l - v) <= 1e-7*Math.max(1,Math.abs(v))); return k >= 0 ? labels[k] : ' '; });
}
function ellipse(cx, cy, sx, sy, rho, k){
  const xs = [], ys = [], s = Math.sqrt(1 - rho*rho);
  for (let i = 0; i <= 60; i++){ const t = 2*Math.PI*i/60, c = Math.cos(t), d = Math.sin(t);
    xs.push(cx + k*sx*c); ys.push(cy + k*sy*(rho*c + s*d)); }
  return [xs, ys];
}
function pairIndex(a, b){ const lo = Math.min(a,b), hi = Math.max(a,b); return lo===0 ? (hi===1?0:1) : 2; }

// first pass: all visible panel axes; second pass: hidden density axes for the KDE curves
const kdeJobs = [];
CORNERS.forEach((row, r) => {
  row.forEach((C, g) => {
    const [XR,XG,XL,YR,YG,YL,MX,SX,MY,SY,RHO,KX,KY] = C;
    for (let i = 0; i < 3; i++){
      for (let j = 0; j < 3; j++){
        const x0 = GX0[g] + j*COL_PITCH, y0 = ROW_TOP[r] + i*ROW_PITCH[r];
        const common = {showline:true, linecolor:'#d4d4d4', linewidth:1.3, zeroline:false, showgrid:true,
          gridcolor:'#d6d6d6', gridwidth:0.9, griddash:'dash',
          tickfont:{family:SANS, size:16, color:'#9b9b9b'}, tickmode:'array', tickangle:0, fixedrange:true};
        const xdom = [px2x(x0), px2x(x0+PANEL_W)], ydom = [px2y(y0+PANEL_H), px2y(y0)];
        const {xid, yid} = axisPair(
          Object.assign({}, common, {domain:xdom, range:XR[j], tickvals:XG[j], ticktext:tickText(XG[j], XL[j]), showticklabels: i===2,
            ticks:'', ticklabelstandoff:-2}),
          Object.assign({}, common, {domain:ydom, range:YR[i], tickvals:YG[i], ticktext:tickText(YG[i], YL[i]), showticklabels: j===0,
            ticks:'outside', ticklen:3, tickcolor:'rgba(0,0,0,0)'}));
        if (i === j){
          kdeJobs.push({xdom, ydom, xr:XR[j], kx:KX[i], ky:KY[i], color:KDE_COLORS[r][g]});
          // keep the empty panel subplot alive
          traces.push({type:'scatter', mode:'markers', x:[], y:[], xaxis:xid, yaxis:yid, hoverinfo:'skip'});
        } else {
          const rho = RHO[pairIndex(i,j)];
          const rgb = CLOUD_RGB[r][g];
          CLOUD_K.forEach(k => {
            const [ex, ey] = ellipse(MX[j], MY[i], SX[j], SY[i], rho, k);
            traces.push({type:'scatter', mode:'lines', x:ex, y:ey, xaxis:xid, yaxis:yid, fill:'toself',
              fillcolor:`rgba(${rgb[0]},${rgb[1]},${rgb[2]},${CLOUD_ALPHA})`, line:{width:0, color:'rgba(0,0,0,0)'}, hoverinfo:'skip'});
          });
        }
        if (i === 2) ann(VAR_TITLES[j], x0 + PANEL_W/2, XTITLE_Y[r], {font:{family:SERIF, size:27, color:'#000'}});
        if (j === 0 && g === 0) ann(VAR_TITLES[i], YTITLE_X, y0 + PANEL_H/2, {textangle:-90, font:{family:SERIF, size:27, color:'#000'}});
      }
    }
  });
});
kdeJobs.forEach(J => {
  const {xid, yid} = axisPair(
    {domain:J.xdom, range:J.xr, visible:false, fixedrange:true, showgrid:false, zeroline:false},
    {domain:J.ydom, range:[-0.006, 1.058], visible:false, fixedrange:true, showgrid:false, zeroline:false});
  traces.push({type:'scatter', mode:'lines', x:J.kx, y:J.ky, xaxis:xid, yaxis:yid,
    line:{color:J.color, width:1.7, shape:'spline', smoothing:0.6}, hoverinfo:'skip'});
});

Plotly.newPlot('plot', traces, layout, {staticPlot:true, responsive:false});
</script>
</body></html>
